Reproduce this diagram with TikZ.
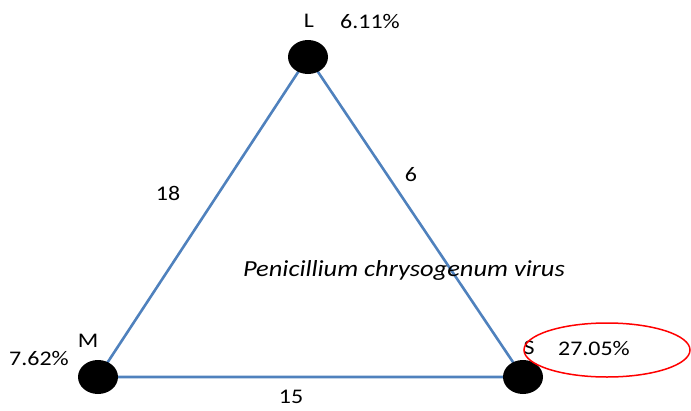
\documentclass[tikz,border=0pt]{standalone}
\usepackage{fontspec}
\setmainfont{Carlito}[FakeStretch=1.15]
\usetikzlibrary{shapes.geometric}
\definecolor{edgeblue}{RGB}{79,129,189}
\begin{document}
\begin{tikzpicture}[x=1pt,y=-1pt,
  vtx/.style={ellipse,fill=black,minimum width=40pt,minimum height=34pt,inner sep=0pt},
  edge/.style={draw=edgeblue,line width=2.6pt},
  lbl/.style={font=\fontsize{20.8}{22}\selectfont,inner sep=0pt,anchor=center}]
\useasboundingbox (0,0) rectangle (691,410);
\draw[edge] (308,57) coordinate (l0) -- (98,377) coordinate (m0) -- (523,377) coordinate (s0) -- cycle;
\node[vtx] (L) at (308,57) {};
\node[vtx] (M) at (98,377) {};
\node[vtx] (S) at (523,377) {};
\node[lbl] (tL) at (309,21) {L};
\node[lbl] (pL) at (370,21) {6.11\%};
\node[lbl] (tM) at (88,341) {M};
\node[lbl] (pM) at (39,358) {7.62\%};
\node[lbl] (tS) at (529,348) {S};
\node[lbl] (pS) at (594,348) {27.05\%};
\node[lbl] (e1) at (168,193) {18};
\node[lbl] (e2) at (411,175) {6};
\node[lbl] (e3) at (291,397) {15};
\node[font=\fontsize{23}{26}\selectfont\itshape,inner sep=0pt] (name) at (404,270) {Penicillium chrysogenum virus};
\draw[red,line width=1.5pt] (607,350) ellipse [x radius=83, y radius=27];
\end{tikzpicture}
\end{document}
